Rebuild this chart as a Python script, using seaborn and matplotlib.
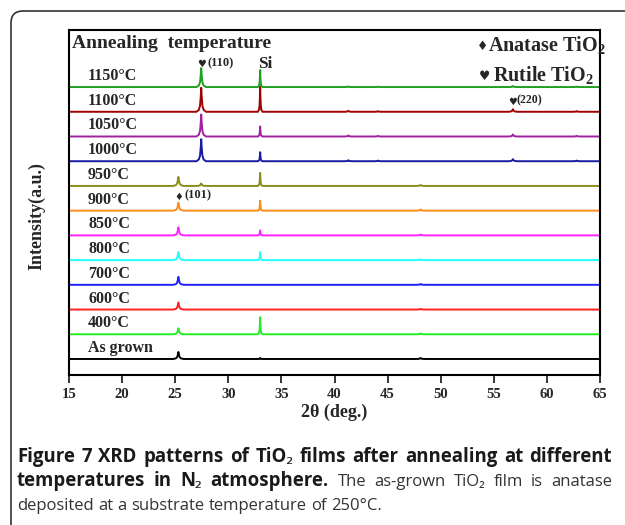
import numpy as np
import pandas as pd
import matplotlib
matplotlib.use("Agg")
import matplotlib.pyplot as plt
from matplotlib.patches import FancyBboxPatch
import seaborn as sns

# ---------------- data ----------------
samples = ["As grown", "400°C", "600°C", "700°C", "800°C", "850°C",
           "900°C", "950°C", "1000°C", "1050°C", "1100°C", "1150°C"]
colors = ["#000000", "#22ee22", "#ff2020", "#2020ff", "#22ffff", "#ff22ff",
          "#ff8c1a", "#8c8c1a", "#1a1aa0", "#a020a0", "#a00000", "#20a020"]

# peak positions (2theta, deg)
pos_anatase101 = 25.3
pos_rutile110 = 27.45
pos_si = 33.0
pos_rutile111 = 41.3
pos_rutile210 = 44.1
pos_anatase200 = 48.1
pos_rutile220 = 56.8
pos_rutile310 = 62.8

# peak heights (a.u.) per sample, in the order of `samples`
h_anatase101 = [7, 6, 7, 8, 8, 8, 8, 9, 0, 0, 0, 0]
h_rutile110 = [0, 0, 0, 0, 0, 0, 0, 2.5, 22, 22, 24, 19]
h_si = [1, 17, 0, 0, 8, 5, 10, 13, 9, 10, 25, 17]
h_rutile111 = [0, 0, 0, 0, 0, 0, 0, 0, 1, 1, 1, 0.6]
h_rutile210 = [0, 0, 0, 0, 0, 0, 0, 0, 0.6, 0.6, 0.6, 0.4]
h_anatase200 = [1, 0.7, 0.7, 0.8, 0.8, 0.8, 1.2, 1, 0, 0, 0, 0]
h_rutile220 = [0, 0, 0, 0, 0, 0, 0, 0, 2, 2, 2.5, 1]
h_rutile310 = [0, 0, 0, 0, 0, 0, 0, 0, 0.6, 0.6, 0.6, 0.4]

x_range = [15, 65]
x_ticks = [15, 20, 25, 30, 35, 40, 45, 50, 55, 60, 65]
offset_step = 24.7

caption_line1 = "Figure 7 XRD patterns of TiO₂ films after annealing at different"
caption_line2_bold = "temperatures in N₂ atmosphere."
caption_line2_reg = "The as-grown TiO₂ film is anatase"
caption_line3 = "deposited at a substrate temperature of 250°C."

# ---------------- build traces ----------------
peak_defs = [
    (pos_anatase101, h_anatase101, 0.5),
    (pos_rutile110, h_rutile110, 0.45),
    (pos_si, h_si, 0.22),
    (pos_rutile111, h_rutile111, 0.4),
    (pos_rutile210, h_rutile210, 0.4),
    (pos_anatase200, h_anatase200, 0.45),
    (pos_rutile220, h_rutile220, 0.45),
    (pos_rutile310, h_rutile310, 0.4),
]
shape_dx = np.array([-1, -0.5, -0.25, -0.1, 0, 0.1, 0.25, 0.5, 1])
shape_rel = np.array([0, 0.08, 0.25, 0.62, 1, 0.62, 0.25, 0.08, 0])

rows = []
for i, s in enumerate(samples):
    base = i * offset_step
    pts = [(x_range[0], 0.0), (x_range[1], 0.0)]
    for p, hs, w in peak_defs:
        h = hs[i]
        if h <= 0:
            continue
        for dx, r in zip(shape_dx, shape_rel):
            pts.append((p + dx * w, h * r))
    pts.sort()
    for x, y in pts:
        rows.append({"two_theta": x, "intensity": y + base, "sample": s})
df = pd.DataFrame(rows)

# ---------------- plot ----------------
sns.set_style("ticks")
plt.rcParams["font.family"] = ["Liberation Serif", "DejaVu Sans"]
plt.rcParams["mathtext.fontset"] = "custom"
plt.rcParams["mathtext.rm"] = "Liberation Serif"
plt.rcParams["mathtext.bf"] = "Liberation Serif:bold"

W, H = 625, 525
fig = plt.figure(figsize=(W / 100, H / 100), dpi=100)
ax = fig.add_axes([69 / W, 1 - 375 / H, 531 / W, 345 / H])

sns.lineplot(data=df, x="two_theta", y="intensity", hue="sample",
             palette=dict(zip(samples, colors)), estimator=None, sort=False,
             legend=False, linewidth=1.4, ax=ax)

ax.set_xlim(*x_range)
ax.set_ylim(-16, 11 * offset_step + 57)
ax.set_xticks(x_ticks)
ax.set_xticklabels([str(t) for t in x_ticks], fontweight="bold", fontsize=10.5)
ax.set_yticks([])
ax.tick_params(axis="x", direction="out", length=6, width=1.3, pad=3)
for sp in ax.spines.values():
    sp.set_linewidth(1.5)
    sp.set_color("black")
ax.set_xlabel("2θ (deg.)", fontweight="bold", fontsize=13, labelpad=2)
ax.set_ylabel("Intensity(a.u.)", fontweight="bold", fontsize=13)
ax.yaxis.set_label_coords(-0.045, 0.46)

# sample labels
for i, s in enumerate(samples):
    ax.text(16.8, i * offset_step + 3, s, fontsize=11.5, fontweight="bold",
            ha="left", va="bottom")

top = 11 * offset_step
ax.text(15.3, top + 44, "Annealing  temperature", fontsize=14,
        fontweight="bold", ha="left", va="center")

# peak annotations
ax.text(pos_rutile110, top + 23, "♥", family="DejaVu Sans", fontsize=7,
        ha="center", va="center")
ax.text(pos_rutile110 + 0.6, top + 24, "(110)", fontsize=9, fontweight="bold",
        ha="left", va="center")
ax.text(pos_si + 0.45, top + 23, "Si", fontsize=12.5, fontweight="bold",
        ha="center", va="center")
ax.text(pos_anatase101, 6 * offset_step + 14, "♦", family="DejaVu Sans",
        fontsize=7, ha="center", va="center")
ax.text(pos_anatase101 + 0.6, 6 * offset_step + 15, "(101)", fontsize=9,
        fontweight="bold", ha="left", va="center")
ax.text(pos_rutile220, 10 * offset_step + 10, "♥", family="DejaVu Sans",
        fontsize=7, ha="center", va="center")
ax.text(pos_rutile220 + 0.35, 10 * offset_step + 11, "(220)", fontsize=8.5,
        fontweight="bold", ha="left", va="center")

# marker legend
ax.text(53.9, top + 41, "♦", family="DejaVu Sans", fontsize=9,
        ha="center", va="center")
ax.text(54.45, top + 41, r"Anatase TiO$_\mathbf{2}$", fontsize=14.5,
        fontweight="bold", ha="left", va="center")
ax.text(54.1, top + 11, "♥", family="DejaVu Sans", fontsize=9,
        ha="center", va="center")
ax.text(54.9, top + 11, r"Rutile TiO$_\mathbf{2}$", fontsize=14.5,
        fontweight="bold", ha="left", va="center")

# outer rounded frame (pixel coordinates)
frame = FancyBboxPatch((11, -40), 700, H - 11 + 40,
                       boxstyle="round,pad=0,rounding_size=12",
                       transform=None, fill=False, edgecolor="#333333",
                       linewidth=1.2)
fig.patches.append(frame)

# caption
cap_font = ["Open Sans", "Noto Sans", "DejaVu Sans"]
bold_size = 13.4
reg_size = 12.0
renderer = fig.canvas.get_renderer()


def fy(py):
    return 1 - py / H


def space_width(size, weight):
    a = fig.text(0, 0, "a b", family=cap_font, fontsize=size, fontweight=weight)
    b = fig.text(0, 0, "ab", family=cap_font, fontsize=size, fontweight=weight)
    w = (a.get_window_extent(renderer=renderer).width
         - b.get_window_extent(renderer=renderer).width)
    a.remove()
    b.remove()
    return w


def place_line(parts, py, justify, x0=17, x1=612):
    words = []
    for text, bold in parts:
        size = bold_size if bold else reg_size
        weight = "bold" if bold else "normal"
        for w in text.split(" "):
            t = fig.text(x0 / W, fy(py), w, family=cap_font, fontsize=size,
                         fontweight=weight,
                         color="#1a1a1a" if bold else "#333333",
                         va="baseline", ha="left")
            words.append((t, space_width(size, weight)))
    widths = [t.get_window_extent(renderer=renderer).width for t, _ in words]
    natural = sum(widths) + sum(s for _, s in words[:-1])
    extra = 0
    if justify and len(words) > 1:
        extra = max(0, (x1 - x0 - natural) / (len(words) - 1))
    x = x0
    for (t, sp), wd in zip(words, widths):
        t.set_x(x / W)
        x += wd + sp + extra


place_line([(caption_line1, True)], 462, True)
place_line([(caption_line2_bold, True), (caption_line2_reg, False)], 486, True)
place_line([(caption_line3, False)], 510, False)

fig.savefig("out.png", dpi=100)
